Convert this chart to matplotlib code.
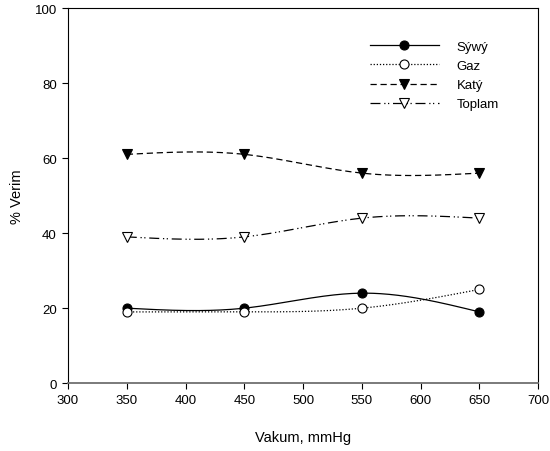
import numpy as np
import matplotlib
matplotlib.use("Agg")
import matplotlib.pyplot as plt

plt.rcParams['font.family'] = ['Liberation Sans', 'DejaVu Sans']

vakum = [350, 450, 550, 650]
sivi = [20, 20, 24, 19]
gaz = [19, 19, 20, 25]
kati = [61, 61, 56, 56]
toplam = [39, 39, 44, 44]
labels = ['Sýwý', 'Gaz', 'Katý', 'Toplam']
xticks = [300, 350, 400, 450, 500, 550, 600, 650, 700]
yticks = [0, 20, 40, 60, 80, 100]


def natural_spline(x, y, n=200):
    x = np.asarray(x, float); y = np.asarray(y, float)
    k = len(x); h = np.diff(x)
    A = np.zeros((k, k)); b = np.zeros(k)
    A[0, 0] = 1; A[-1, -1] = 1
    for i in range(1, k - 1):
        A[i, i - 1] = h[i - 1]; A[i, i] = 2 * (h[i - 1] + h[i]); A[i, i + 1] = h[i]
        b[i] = 6 * ((y[i + 1] - y[i]) / h[i] - (y[i] - y[i - 1]) / h[i - 1])
    M = np.linalg.solve(A, b)
    xs = np.linspace(x[0], x[-1], n)
    idx = np.clip(np.searchsorted(x, xs) - 1, 0, k - 2)
    x0 = x[idx]; x1 = x[idx + 1]; hh = x1 - x0
    t0 = x1 - xs; t1 = xs - x0
    ys = (M[idx] * t0**3 + M[idx + 1] * t1**3) / (6 * hh) \
        + (y[idx] / hh - M[idx] * hh / 6) * t0 + (y[idx + 1] / hh - M[idx + 1] * hh / 6) * t1
    return xs, ys


fig = plt.figure(figsize=(5.5, 4.52), dpi=100)
ax = fig.add_axes([0.1236, 0.150, 0.855, 0.830])

styles = [
    dict(ls='-', marker='o', mfc='black'),
    dict(ls=(0, (1, 1.5)), marker='o', mfc='white'),
    dict(ls=(0, (5, 3)), marker='v', mfc='black'),
    dict(ls=(0, (8, 3, 1, 2, 1, 3)), marker='v', mfc='white'),
]
for data, lab, st in zip([sivi, gaz, kati, toplam], labels, styles):
    xs, ys = natural_spline(vakum, data)
    ax.plot(xs, ys, color='black', lw=0.9, ls=st['ls'])
    ax.plot(vakum, data, ls='none', marker=st['marker'], mfc=st['mfc'],
            mec='black', ms=6.5, mew=0.8)
    ax.plot([], [], color='black', lw=0.9, ls=st['ls'], marker=st['marker'],
            mfc=st['mfc'], mec='black', ms=6.5, mew=0.8, label=lab)

ax.set_xlim(300, 700)
ax.set_ylim(0, 100)
ax.set_xticks(xticks)
ax.set_yticks(yticks)
ax.tick_params(direction='out', length=4, width=0.8, labelsize=9.5, pad=4)
for s in ax.spines.values():
    s.set_linewidth(0.8)
ax.spines['bottom'].set_color('#707070')
ax.spines['bottom'].set_linewidth(1.3)
ax.set_xlabel('Vakum, mmHg', fontsize=10.5, labelpad=17)
ax.set_ylabel('% Verim', fontsize=10.5, labelpad=8)

h, l = ax.get_legend_handles_labels()
ax.legend(h, l, loc='upper left', bbox_to_anchor=(0.63, 0.927), frameon=False,
          fontsize=9.5, handlelength=5.3, handletextpad=1.3, labelspacing=0.52,
          borderaxespad=0)

fig.savefig('out.png', dpi=100)
